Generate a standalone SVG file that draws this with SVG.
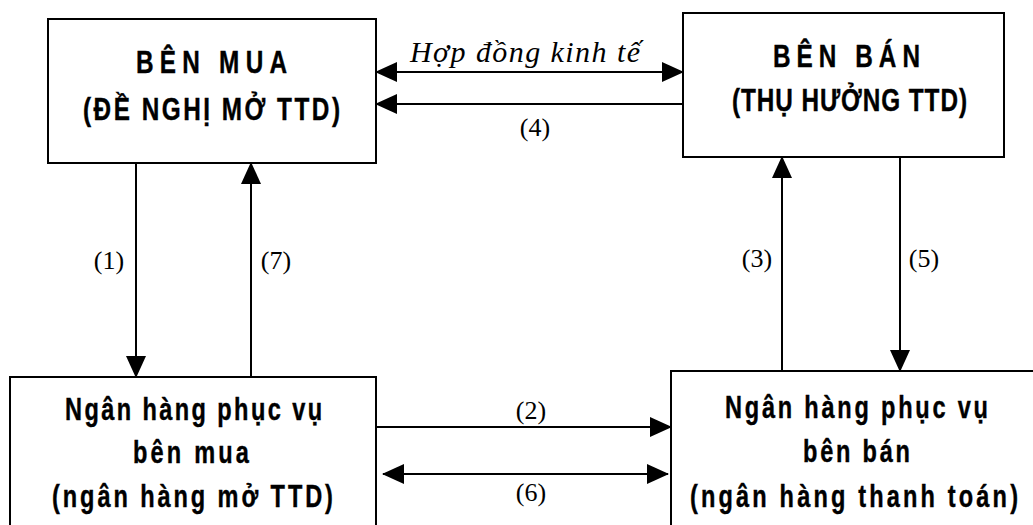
<svg xmlns="http://www.w3.org/2000/svg" width="1033" height="525" viewBox="0 0 1033 525">
<style>
.box{fill:#fff;stroke:#000;stroke-width:2}
.bt{font-family:"Liberation Sans",Arial,sans-serif;font-weight:bold;font-size:32px;fill:#000;stroke:#000;stroke-width:0.4}
.bs{font-family:"Liberation Sans",Arial,sans-serif;font-weight:bold;font-size:31px;fill:#000;stroke:#000;stroke-width:0.4}
.lbl{font-family:"Liberation Serif","Times New Roman",serif;font-size:26px;fill:#000;text-anchor:middle}
.it{font-family:"Liberation Serif","Times New Roman",serif;font-size:30px;font-style:italic;fill:#000}
.ln{stroke:#000;stroke-width:2;fill:none}
</style>
<defs>
<marker id="ah" markerUnits="userSpaceOnUse" markerWidth="22" markerHeight="20" viewBox="0 0 22 20" refX="21" refY="10" orient="auto-start-reverse">
<path d="M0,0 L22,10 L0,20 Z" fill="#000"/>
</marker>
</defs>
<rect width="1033" height="525" fill="#fff"/>
<g id="ben-mua">
<rect class="box" x="48" y="19" width="328" height="144"/>
<text class="bt" transform="translate(136,72.5) scale(0.76,1)" textLength="198.7" lengthAdjust="spacing">BÊN MUA</text>
<text class="bt" transform="translate(83,119.5) scale(0.76,1)" textLength="338.2" lengthAdjust="spacing">(ĐỀ NGHỊ MỞ TTD)</text>
</g>
<g id="ben-ban">
<rect class="box" x="683" y="13" width="321" height="144"/>
<text class="bt" transform="translate(773,67) scale(0.76,1)" textLength="193.4" lengthAdjust="spacing">BÊN BÁN</text>
<text class="bt" transform="translate(732,111) scale(0.76,1)" textLength="309.2" lengthAdjust="spacing">(THỤ HƯỞNG TTD)</text>
</g>
<g id="nh-mua">
<rect class="box" x="10" y="377" width="366" height="170"/>
<text class="bs" transform="translate(65,420) scale(0.76,1)" textLength="338.2" lengthAdjust="spacing">Ngân hàng phục vụ</text>
<text class="bs" transform="translate(133,463) scale(0.76,1)" textLength="152.6" lengthAdjust="spacing">bên mua</text>
<text class="bs" transform="translate(52,507) scale(0.76,1)" textLength="369.7" lengthAdjust="spacing">(ngân hàng mở TTD)</text>
</g>
<g id="nh-ban">
<rect class="box" x="671" y="371" width="380" height="176"/>
<text class="bs" transform="translate(725,418) scale(0.76,1)" textLength="346" lengthAdjust="spacing">Ngân hàng phục vụ</text>
<text class="bs" transform="translate(803,462) scale(0.76,1)" textLength="140.8" lengthAdjust="spacing">bên bán</text>
<text class="bs" transform="translate(690,507) scale(0.76,1)" textLength="431.6" lengthAdjust="spacing">(ngân hàng thanh toán)</text>
</g>
<g id="connectors">
<line class="ln" x1="376" y1="72" x2="683" y2="72" marker-start="url(#ah)" marker-end="url(#ah)"/>
<line class="ln" x1="683" y1="104" x2="376" y2="104" marker-end="url(#ah)"/>
<line class="ln" x1="136" y1="163" x2="136" y2="377" marker-end="url(#ah)"/>
<line class="ln" x1="251" y1="377" x2="251" y2="163" marker-end="url(#ah)"/>
<line class="ln" x1="782" y1="371" x2="782" y2="157" marker-end="url(#ah)"/>
<line class="ln" x1="900" y1="157" x2="900" y2="371" marker-end="url(#ah)"/>
<line class="ln" x1="376" y1="427" x2="671" y2="427" marker-end="url(#ah)"/>
<line class="ln" x1="383" y1="474" x2="668" y2="474" marker-start="url(#ah)" marker-end="url(#ah)"/>
<text class="it" x="410" y="62" textLength="230" lengthAdjust="spacing">Hợp đồng kinh tế</text>
<text class="lbl" x="535" y="136">(4)</text>
<text class="lbl" x="109" y="269">(1)</text>
<text class="lbl" x="276" y="269">(7)</text>
<text class="lbl" x="757" y="267">(3)</text>
<text class="lbl" x="924" y="267">(5)</text>
<text class="lbl" x="531" y="419">(2)</text>
<text class="lbl" x="531" y="501">(6)</text>
</g>
</svg>
